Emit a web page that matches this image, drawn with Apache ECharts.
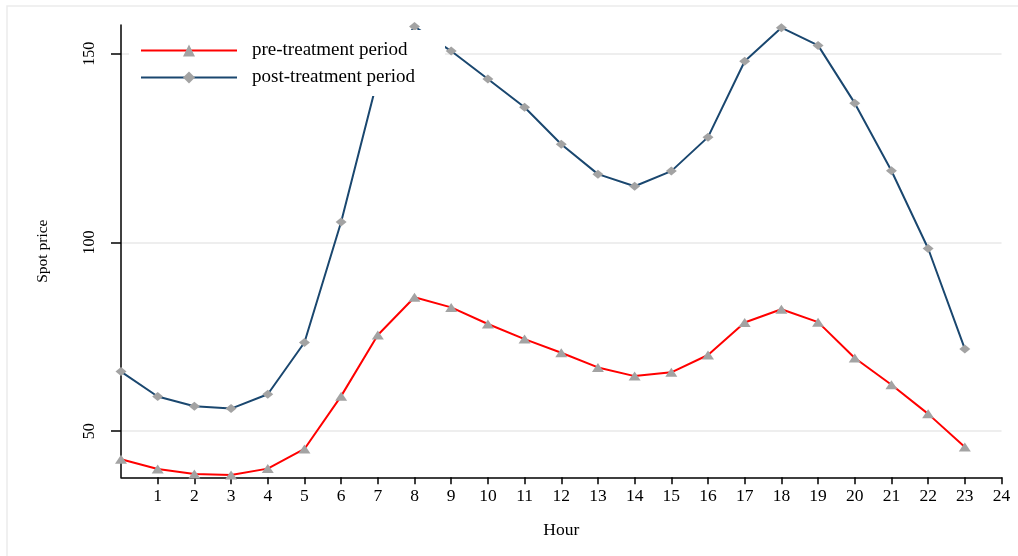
<!DOCTYPE html>
<html>
<head>
<meta charset="utf-8">
<title>Spot price by hour</title>
<script src="https://cdn.jsdelivr.net/npm/echarts@6/dist/echarts.min.js"></script>
<style>
  html, body { margin: 0; padding: 0; background: #ffffff; }
  #chart { width: 1018px; height: 556px; }
</style>
</head>
<body>
<div id="chart"></div>
<script>
// Hour of day (x values)
const hours = [0, 1, 2, 3, 4, 5, 6, 7, 8, 9, 10, 11, 12, 13, 14, 15, 16, 17, 18, 19, 20, 21, 22, 23];

// Average spot price per hour
const prePeriod = [42.6, 40.0, 38.7, 38.4, 40.1, 45.3, 59.3, 75.5, 85.5, 82.8, 78.4, 74.4,
                   70.8, 66.9, 64.6, 65.6, 70.2, 78.8, 82.3, 78.9, 69.4, 62.3, 54.6, 45.8];
const postPeriod = [65.8, 59.2, 56.6, 56.0, 59.8, 73.5, 105.4, 143.5, 157.2, 150.7, 143.3, 135.8,
                    126.0, 118.1, 114.9, 118.9, 127.9, 148.0, 156.9, 152.2, 136.9, 119.0, 98.4, 71.8];

// Axis ticks
const xTicks = [1, 2, 3, 4, 5, 6, 7, 8, 9, 10, 11, 12, 13, 14, 15, 16, 17, 18, 19, 20, 21, 22, 23, 24];
const yTicks = [50, 100, 150];

const seriesNames = ['pre-treatment period', 'post-treatment period'];

const serif = '"Liberation Serif", "Times New Roman", serif';
const markerGrey = '#a3a3a3';

const chart = echarts.init(document.getElementById('chart'), null, { renderer: 'canvas' });

const pairs = (ys) => hours.map((h, i) => [h, ys[i]]);

chart.setOption({
  animation: false,
  backgroundColor: '#ffffff',
  textStyle: { fontFamily: serif, color: '#000' },
  // faint outer frame of the graph region (top and left edges)
  graphic: [
    {
      type: 'polyline',
      shape: { points: [[7, 556], [7, 6], [1018, 6]] },
      style: { fill: null, stroke: '#ebebeb', lineWidth: 1.5 },
      silent: true,
      z: -10
    }
  ],
  grid: { left: 121, right: 16.5, top: 25, bottom: 78.7, containLabel: false },
  legend: {
    orient: 'vertical',
    left: 129, top: 30,
    padding: [11, 30, 9, 11],
    backgroundColor: '#ffffff',
    itemWidth: 96, itemHeight: 15,
    itemGap: 8,
    textStyle: { fontFamily: serif, fontSize: 19, color: '#000', padding: [0, 0, 0, 10] },
    data: seriesNames
  },
  xAxis: {
    type: 'value',
    min: 0, max: 24,
    name: 'Hour',
    nameLocation: 'middle',
    nameGap: 44,
    nameTextStyle: { fontFamily: serif, fontSize: 17.5, color: '#000' },
    axisLine: { onZero: false, lineStyle: { color: '#000', width: 1.5 } },
    axisTick: { customValues: xTicks, length: 7, lineStyle: { color: '#000', width: 1.5 } },
    axisLabel: { customValues: xTicks, fontFamily: serif, fontSize: 17.5, color: '#000', margin: 10 },
    splitLine: { show: false }
  },
  yAxis: {
    type: 'value',
    min: 37.8, max: 157.6,
    name: 'Spot price',
    nameLocation: 'middle',
    nameRotate: 90,
    nameGap: 70,
    nameTextStyle: { fontFamily: serif, fontSize: 15.5, color: '#000' },
    axisLine: { onZero: false, lineStyle: { color: '#000', width: 1.5 } },
    axisTick: { customValues: yTicks, length: 10, lineStyle: { color: '#000', width: 1.5 } },
    axisLabel: { customValues: yTicks, rotate: 90, fontFamily: serif, fontSize: 16, color: '#000', margin: 23 },
    splitLine: { show: true, lineStyle: { color: '#e8e8e8', width: 1.5 } }
  },
  series: [
    {
      name: seriesNames[0],
      type: 'line',
      data: pairs(prePeriod),
      symbol: 'triangle',
      symbolSize: [12, 9],
      showAllSymbol: true,
      lineStyle: { color: '#ff0000', width: 2 },
      itemStyle: { color: markerGrey, borderWidth: 0 },
      color: '#ff0000',
      z: 3
    },
    {
      name: seriesNames[1],
      type: 'line',
      data: pairs(postPeriod),
      symbol: 'diamond',
      symbolSize: [11, 9],
      showAllSymbol: true,
      lineStyle: { color: '#1a476f', width: 2 },
      itemStyle: { color: markerGrey, borderWidth: 0 },
      color: '#1a476f',
      z: 2
    }
  ]
});
</script>
</body>
</html>
